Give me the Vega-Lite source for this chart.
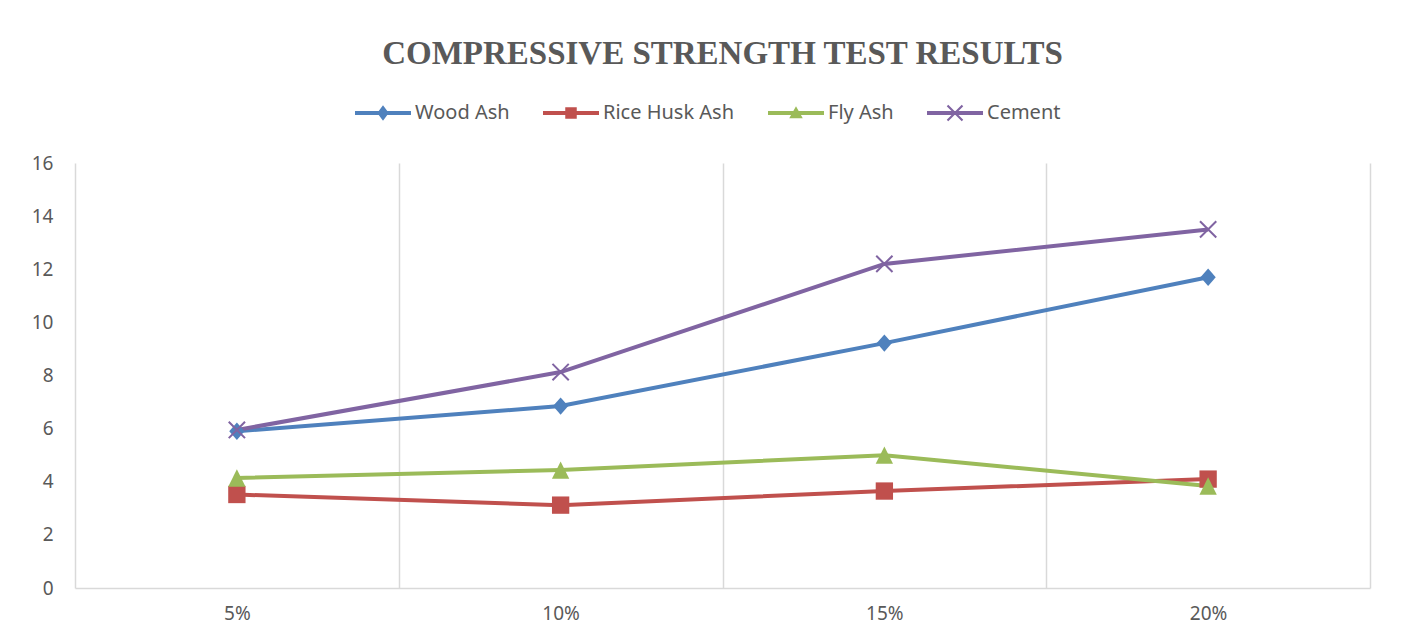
{
  "$schema": "https://vega.github.io/schema/vega-lite/v6.json",
  "width": 1295,
  "height": 425,
  "autosize": {"type": "none"},
  "padding": {"left": 75, "top": 163, "right": 33, "bottom": 48},
  "background": "white",
  "title": {
    "text": "COMPRESSIVE STRENGTH TEST RESULTS",
    "font": "Liberation Serif",
    "fontSize": 33,
    "fontWeight": "bold",
    "color": "#595959",
    "anchor": "middle",
    "offset": 32
  },
  "data": {
    "values": [
      {"series": "Wood Ash", "level": "5%", "strength": 5.9},
      {"series": "Wood Ash", "level": "10%", "strength": 6.85},
      {"series": "Wood Ash", "level": "15%", "strength": 9.22},
      {"series": "Wood Ash", "level": "20%", "strength": 11.7},
      {"series": "Rice Husk Ash", "level": "5%", "strength": 3.52},
      {"series": "Rice Husk Ash", "level": "10%", "strength": 3.12},
      {"series": "Rice Husk Ash", "level": "15%", "strength": 3.65},
      {"series": "Rice Husk Ash", "level": "20%", "strength": 4.1},
      {"series": "Fly Ash", "level": "5%", "strength": 4.14},
      {"series": "Fly Ash", "level": "10%", "strength": 4.44},
      {"series": "Fly Ash", "level": "15%", "strength": 5.0},
      {"series": "Fly Ash", "level": "20%", "strength": 3.84},
      {"series": "Cement", "level": "5%", "strength": 5.95},
      {"series": "Cement", "level": "10%", "strength": 8.13},
      {"series": "Cement", "level": "15%", "strength": 12.2},
      {"series": "Cement", "level": "20%", "strength": 13.5}
    ]
  },
  "encoding": {
    "x": {
      "field": "level",
      "type": "ordinal",
      "sort": ["5%", "10%", "15%", "20%"],
      "bandPosition": 0.5,
      "scale": {"type": "band", "paddingInner": 0, "paddingOuter": 0},
      "axis": {
        "title": null,
        "grid": true,
        "tickBand": "extent",
        "gridColor": "#d9d9d9",
        "gridWidth": 1.5,
        "domain": true,
        "domainColor": "#d9d9d9",
        "domainWidth": 1.5,
        "ticks": false,
        "labelAngle": 0,
        "labelFont": "Noto Sans",
        "labelFontSize": 19,
        "labelColor": "#595959",
        "labelPadding": 16
      }
    },
    "y": {
      "field": "strength",
      "type": "quantitative",
      "scale": {"domain": [0, 16], "nice": false},
      "axis": {
        "title": null,
        "values": [0, 2, 4, 6, 8, 10, 12, 14, 16],
        "grid": false,
        "domain": false,
        "ticks": false,
        "labelFont": "Noto Sans",
        "labelFontSize": 19,
        "labelColor": "#595959",
        "labelPadding": 22
      }
    }
  },
  "layer": [
    {
      "mark": {"type": "line", "strokeWidth": 4},
      "encoding": {
        "stroke": {
          "field": "series",
          "type": "nominal",
          "scale": {
            "domain": ["Cement", "Fly Ash", "Rice Husk Ash", "Wood Ash"],
            "range": ["#8064a2", "#9bbb59", "#c0504d", "#4f81bd"]
          },
          "legend": null
        }
      }
    },
    {
      "transform": [{"filter": {"field": "series", "equal": "Wood Ash"}}],
      "mark": {"type": "point", "filled": true, "opacity": 1, "size": 300, "strokeWidth": 0, "color": "#4f81bd", "shape": "M0,-1L0.88,0L0,1L-0.88,0Z"}
    },
    {
      "transform": [{"filter": {"field": "series", "equal": "Rice Husk Ash"}}],
      "mark": {"type": "point", "filled": true, "opacity": 1, "size": 300, "strokeWidth": 0, "color": "#c0504d", "shape": "M-1,-1H1V1H-1Z"}
    },
    {
      "transform": [{"filter": {"field": "series", "equal": "Fly Ash"}}],
      "mark": {"type": "point", "filled": true, "opacity": 1, "size": 300, "strokeWidth": 0, "color": "#9bbb59", "shape": "M0,-1L1,1H-1Z"}
    },
    {
      "transform": [{"filter": {"field": "series", "equal": "Cement"}}],
      "mark": {"type": "point", "filled": true, "opacity": 1, "size": 300, "strokeWidth": 0, "color": "#8064a2", "shape": "M-0.857,-1.023L1.023,0.857L0.857,1.023L-1.023,-0.857Z M1.023,-0.857L-0.857,1.023L-1.023,0.857L0.857,-1.023Z"}
    },
    {
      "transform": [{"filter": {"field": "strength", "lt": -1}}],
      "mark": {"type": "point", "filled": true, "opacity": 1, "size": 100, "strokeWidth": 0},
      "encoding": {
        "color": {
          "field": "series",
          "type": "nominal",
          "scale": {
            "domain": ["Wood Ash", "Rice Husk Ash", "Fly Ash", "Cement"],
            "range": ["#4f81bd", "#c0504d", "#9bbb59", "#8064a2"]
          },
          "legend": {
            "title": null,
            "orient": "none",
            "direction": "horizontal",
            "legendX": 298,
            "legendY": -60,
            "labelFont": "Noto Sans",
            "labelFontSize": 20,
            "labelColor": "#595959",
            "symbolSize": 100,
            "symbolStrokeWidth": 0,
            "symbolOpacity": 1,
            "labelOffset": 22,
            "columnPadding": 33
          }
        },
        "shape": {
          "field": "series",
          "type": "nominal",
          "scale": {
            "domain": ["Wood Ash", "Rice Husk Ash", "Fly Ash", "Cement"],
            "range": [
              "M-5.6,-0.42H5.6V0.42H-5.6Z M0,-1.55L1.15,0L0,1.55L-1.15,0Z",
              "M-5.6,-0.42H5.6V0.42H-5.6Z M-1.15,-1.15H1.15V1.15H-1.15Z",
              "M-5.6,-0.42H5.6V0.42H-5.6Z M0,-1.35L1.35,1.05H-1.35Z",
              "M-5.6,-0.42H5.6V0.42H-5.6Z M-1.35,-1.65L1.65,1.35L1.35,1.65L-1.65,-1.35Z M1.65,-1.35L-1.35,1.65L-1.65,1.35L1.35,-1.65Z"
            ]
          }
        }
      }
    }
  ],
  "config": {"view": {"stroke": null}}
}
